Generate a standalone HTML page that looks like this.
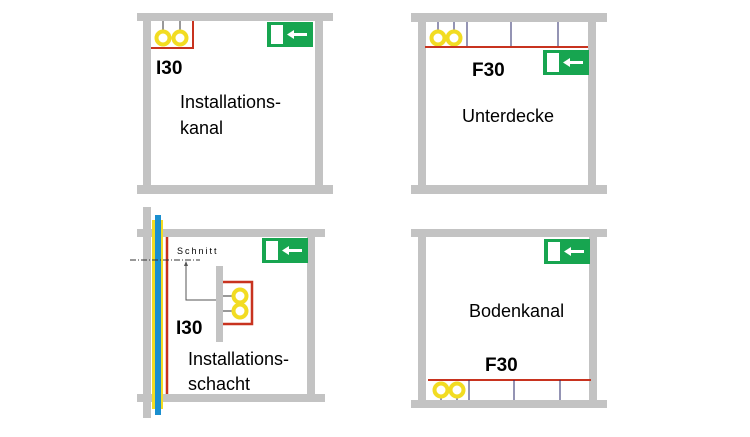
<!DOCTYPE html>
<html><head><meta charset="utf-8"><style>html,body{margin:0;padding:0;background:#fff}svg{display:block}</style></head><body>
<svg width="750" height="437" viewBox="0 0 750 437" xmlns="http://www.w3.org/2000/svg" font-family="Liberation Sans, Arial, sans-serif">
<defs>
<g id="exit">
<rect x="0" y="0" width="46" height="25" fill="#17a550"/>
<rect x="4" y="3" width="12" height="19" fill="#fff"/>
<polygon points="20,12.5 27,8 27,11 40,11 40,14 27,14 27,17" fill="#fff"/>
</g>
<g id="ring"><circle r="6.5" fill="none" stroke="#f2dc22" stroke-width="4"/></g>
</defs>
<g fill="#c3c3c3">
<!-- panel 1 -->
<rect x="137" y="13" width="196" height="8"/>
<rect x="143" y="21" width="8" height="164"/>
<rect x="315" y="21" width="8" height="164"/>
<rect x="137" y="185" width="196" height="9"/>
<!-- panel 2 -->
<rect x="411" y="13" width="196" height="9"/>
<rect x="418" y="22" width="8" height="163"/>
<rect x="588" y="22" width="8" height="163"/>
<rect x="411" y="185" width="196" height="9"/>
<!-- panel 3 -->
<rect x="137" y="229" width="188" height="8"/>
<rect x="307" y="237" width="8" height="157"/>
<rect x="137" y="394" width="188" height="8"/>
<rect x="143" y="207" width="8" height="211"/>
<rect x="216" y="266" width="7" height="76"/>
<!-- panel 4 -->
<rect x="411" y="229" width="196" height="8"/>
<rect x="418" y="237" width="8" height="163"/>
<rect x="589" y="237" width="8" height="163"/>
<rect x="411" y="400" width="196" height="8"/>
</g>
<!-- panel 1 content -->
<line x1="163" y1="21" x2="163" y2="32" stroke="#333" stroke-width="1"/>
<line x1="180" y1="21" x2="180" y2="32" stroke="#333" stroke-width="1"/>
<use href="#ring" x="163" y="38"/><use href="#ring" x="180" y="38"/>
<polyline points="151,48 193,48 193,21" fill="none" stroke="#c8331f" stroke-width="2"/>
<use href="#exit" x="267" y="22"/>
<text x="156" y="74" font-size="19" font-weight="bold">I30</text>
<text x="180" y="108" font-size="18">Installations-</text>
<text x="180" y="134" font-size="18">kanal</text>
<!-- panel 2 content -->
<g stroke="#2a2a6a" stroke-width="1"><line x1="467" y1="22" x2="467" y2="47"/><line x1="511" y1="22" x2="511" y2="47"/><line x1="558" y1="22" x2="558" y2="47"/>
<line x1="438" y1="22" x2="438" y2="32"/><line x1="454" y1="22" x2="454" y2="32"/></g>
<use href="#ring" x="438" y="38"/><use href="#ring" x="454" y="38"/>
<line x1="425" y1="47" x2="588" y2="47" stroke="#c8331f" stroke-width="2"/>
<use href="#exit" x="543" y="50"/>
<text x="472" y="76" font-size="19" font-weight="bold">F30</text>
<text x="462" y="122" font-size="18">Unterdecke</text>
<!-- panel 3 content -->
<rect x="152" y="220" width="11" height="189" fill="#f2dc22"/>
<rect x="155" y="215" width="6" height="200" fill="#1b8fcf"/>
<line x1="167" y1="237" x2="167" y2="394" stroke="#c8331f" stroke-width="2.5"/>
<use href="#exit" x="262" y="238"/>
<text x="177" y="254" font-size="9" letter-spacing="2">Schnitt</text>
<line x1="130" y1="260" x2="200" y2="260" stroke="#333" stroke-width="1" stroke-dasharray="6,2,1,2"/>
<polyline points="186,265 186,300 216,300" fill="none" stroke="#555" stroke-width="1"/>
<polygon points="186,261 184,266 188,266" fill="#555"/>
<polyline points="223,282 252,282 252,324 223,324" fill="none" stroke="#c8331f" stroke-width="2.5"/>
<line x1="223" y1="296" x2="233" y2="296" stroke="#333"/><line x1="223" y1="311" x2="233" y2="311" stroke="#333"/>
<use href="#ring" x="240" y="296"/><use href="#ring" x="240" y="311"/>
<text x="176" y="334" font-size="19" font-weight="bold">I30</text>
<text x="188" y="365" font-size="18">Installations-</text>
<text x="188" y="390" font-size="18">schacht</text>
<!-- panel 4 content -->
<use href="#exit" x="544" y="239"/>
<text x="469" y="317" font-size="18">Bodenkanal</text>
<text x="485" y="371" font-size="19" font-weight="bold">F30</text>
<line x1="428" y1="380" x2="591" y2="380" stroke="#c8331f" stroke-width="2"/>
<g stroke="#2a2a6a" stroke-width="1"><line x1="469" y1="380" x2="469" y2="400"/><line x1="514" y1="380" x2="514" y2="400"/><line x1="560" y1="380" x2="560" y2="400"/>
<line x1="441" y1="396" x2="441" y2="400"/><line x1="457" y1="396" x2="457" y2="400"/></g>
<use href="#ring" x="441" y="390"/><use href="#ring" x="457" y="390"/>
</svg>
</body></html>
